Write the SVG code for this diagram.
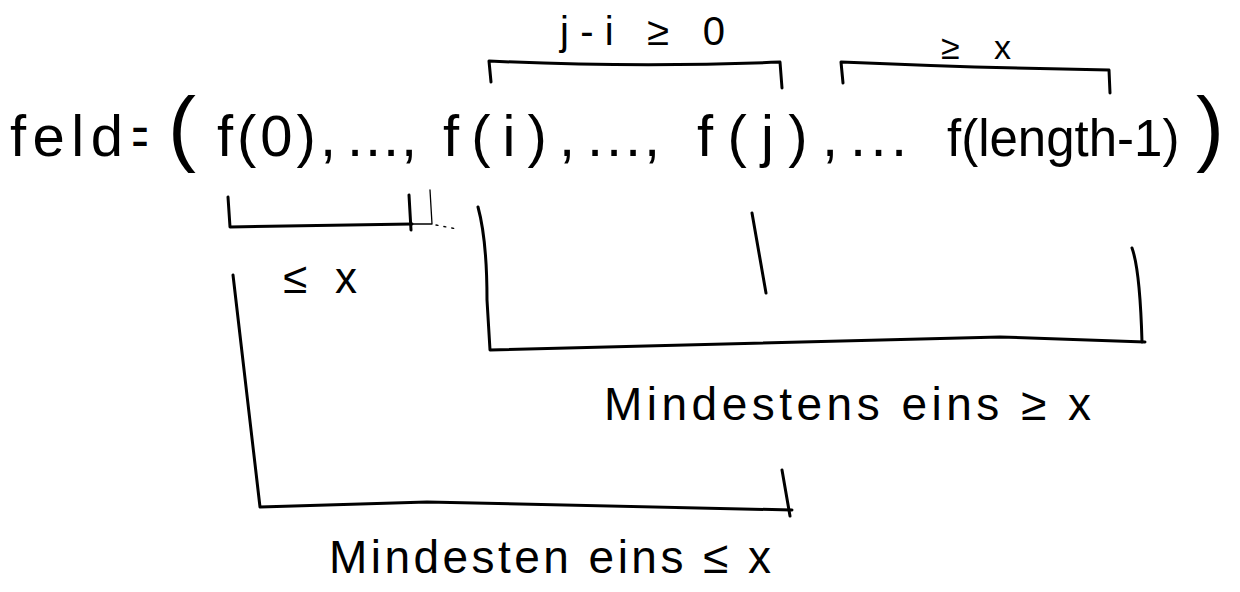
<svg xmlns="http://www.w3.org/2000/svg" width="1240" height="592" viewBox="0 0 1240 592">
<style>
  .t { font-family: "Liberation Sans", "DejaVu Sans", sans-serif; fill: #000; }
  .br { fill: none; stroke: #000; stroke-width: 3; stroke-linecap: round; stroke-linejoin: round; }
  .thin { fill: none; stroke: #000; stroke-width: 1.3; stroke-linecap: round; }
</style>
<rect width="1240" height="592" fill="#fff"/>

<g id="formula">
  <text class="t" y="156" font-size="58"><tspan x="10" textLength="113" lengthAdjust="spacing">feld</tspan> <tspan x="132" textLength="16" lengthAdjust="spacingAndGlyphs">=</tspan> <tspan x="168" font-size="84">(</tspan> <tspan x="217" textLength="119" lengthAdjust="spacing">f(0),</tspan> <tspan x="347" textLength="70" lengthAdjust="spacing">...,</tspan> <tspan x="443" textLength="132" lengthAdjust="spacing">f(i),</tspan> <tspan x="587" textLength="73" lengthAdjust="spacing">...,</tspan> <tspan x="697" textLength="141" lengthAdjust="spacing">f(j),</tspan> <tspan x="850" textLength="57" lengthAdjust="spacing">...</tspan> <tspan x="947" font-size="51">f(length-1)</tspan><tspan x="1196" font-size="84">)</tspan></text>
</g>

<g id="brackets">
  <path class="br" d="M491,82 L489,61 Q640,68 780,62 L782,88"/>
  <path class="br" d="M843,83 L841,62 Q980,68 1109,70 L1110,93"/>
  <path class="br" d="M228,197 L230,227 L412,224"/>
  <path class="br" d="M409,195 L411,230"/>
  <path class="thin" d="M430,190 L432,224 M412,224 L432,224"/>
  <path class="thin" stroke-dasharray="2 6" d="M436,225 L457,229"/>
  <path class="br" d="M233,275 L260,507 L427,502 L792,510"/>
  <path class="br" d="M782,470 L790,516"/>
  <path class="br" d="M478,207 Q487,240 487,300 L490,350 L1000,337 L1145,342"/>
  <path class="br" d="M1132,248 Q1140,270 1142,342"/>
  <path class="br" d="M752,213 L766,293"/>
</g>

<g id="labels">
  <text class="t" x="560" y="45" font-size="40" textLength="165" lengthAdjust="spacing">j-i ≥ 0</text>
  <text class="t" x="941" y="59" font-size="34" textLength="70" lengthAdjust="spacing">≥ x</text>
  <text class="t" x="283" y="293" font-size="44" textLength="74" lengthAdjust="spacing">≤ x</text>
  <text class="t" x="604" y="420" font-size="46" textLength="487" lengthAdjust="spacing">Mindestens eins ≥ x</text>
  <text class="t" x="329" y="573" font-size="46" textLength="442" lengthAdjust="spacing">Mindesten eins ≤ x</text>
</g>
</svg>
